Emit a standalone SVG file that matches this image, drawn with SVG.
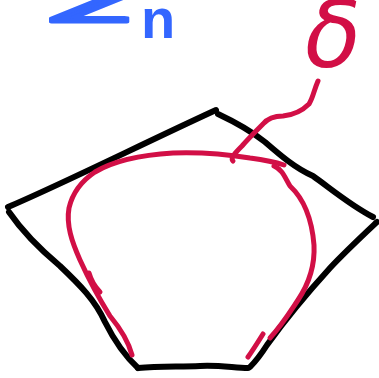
<svg xmlns="http://www.w3.org/2000/svg" width="379" height="378" viewBox="0 0 379 378">
<style>
.blk{fill:none;stroke:#000;stroke-width:6;stroke-linecap:round;stroke-linejoin:round}
.red{fill:none;stroke:#d20f46;stroke-width:5;stroke-linecap:round;stroke-linejoin:round}
.lblB{fill:#3366ff;font-family:"Liberation Sans",Arial,sans-serif;font-weight:bold}
.lblR{fill:#d20f46;font-family:"DejaVu Sans",sans-serif;font-style:italic}
</style>
<rect width="379" height="378" fill="#fff"/>
<g id="polygon">
<path class="blk" d="M8,207 C60,185 140,145 216,110"/>
<path class="blk" d="M218,114 C235,122 250,130 265,142 C280,155 295,168 313,176 C330,188 350,205 373,217"/>
<path class="blk" d="M377,222 C360,238 345,252 330,268 C310,290 285,320 267,345 C260,356 255,362 250,367"/>
<path class="blk" d="M138,368 C160,366 180,367 200,366 C220,365 235,368 248,368"/>
<path class="blk" d="M9,212 C20,228 35,245 60,266 C80,285 95,300 105,322 C115,342 125,356 138,368"/>
</g>
<g id="loop">
<path class="red" d="M132,355 C128,340 120,328 110,316 C100,300 90,282 80,260 C72,242 66,225 69,208 C72,195 80,182 95,172 C115,160 140,155 173,153 C200,152 225,154 250,158 C265,160 275,162 284,165"/>
<path class="red" d="M274,166 C283,170 285,178 290,186 C305,200 312,220 314,245 C315,265 308,285 298,300 C290,312 282,325 270,338"/>
<path class="red" d="M263,334 C258,342 253,350 248,357"/>
<path class="red" d="M89,273 C91,280 94,286 100,292"/>
</g>
<g id="connectors">
<path class="red" d="M233,161 C230,158 236,152 242,146 C248,139 255,132 263,124 C268,118 274,116 283,116 C293,115 302,111 309,104 C313,98 314,90 318,81"/>
</g>
<g id="label-Zn">
<text class="lblB" transform="translate(50,22) scale(3.2,1)" font-size="40" stroke="#3366ff" stroke-width="3" stroke-linejoin="round">Z</text>
<text class="lblB" x="141" y="38" font-size="56">n</text>
</g>
<g id="label-curve">
<text class="lblR" x="305" y="67" font-size="92">δ</text>
</g>
</svg>
